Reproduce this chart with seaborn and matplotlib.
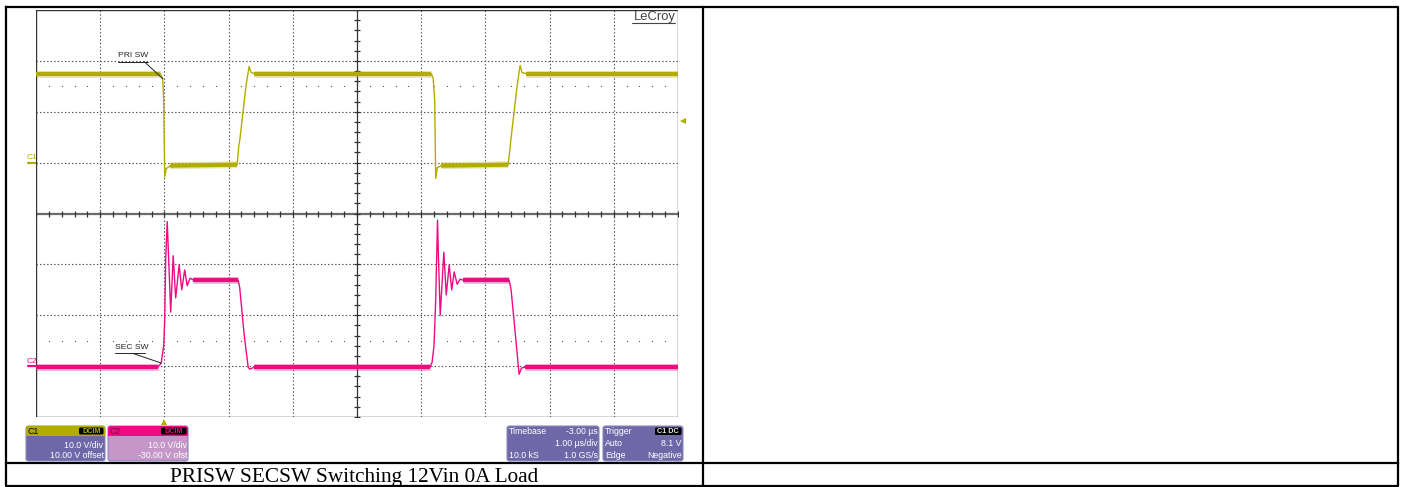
import numpy as np
import pandas as pd
import matplotlib
matplotlib.use("Agg")
import matplotlib.pyplot as plt
import matplotlib.transforms as mtransforms
from matplotlib.patches import FancyBboxPatch, Rectangle
import seaborn as sns

# ---------------------------------------------------------------------------
# Waveform data (time in microseconds relative to trigger, amplitude in volts)
# ---------------------------------------------------------------------------
# C1: primary switch node
c1_time = [-2.00, -0.065, -0.026, -0.011, 0.005, 0.028, 0.090, 1.134, 1.157,
           1.173, 1.274, 1.320, 1.352, 1.400, 4.157, 4.187, 4.210, 4.226,
           4.250, 4.310, 5.355, 5.380, 5.395, 5.495, 5.540, 5.570, 5.640, 8.00]
c1_volts = [17.5, 17.5, 16.5, 12.2, -2.8, -1.2, -0.6, -0.4, 3.2,
            4.3, 15.4, 18.9, 17.7, 17.5, 17.5, 16.5, 12.2, -3.1,
            -1.0, -0.6, -0.4, 2.4, 4.3, 15.2, 19.1, 17.7, 17.5, 17.5]

# C2: secondary switch node (with turn-on ringing)
c2_time = [-2.00, -0.100, -0.050, -0.010, 0.005, 0.020, 0.044, 0.067, 0.098,
           0.137, 0.176, 0.230, 0.270, 0.316, 0.355, 0.400, 0.450, 1.150,
           1.173, 1.243, 1.305, 1.330, 1.400, 4.140, 4.170, 4.200, 4.226,
           4.254, 4.270, 4.296, 4.353, 4.390, 4.436, 4.475, 4.514, 4.560,
           4.607, 4.650, 5.370, 5.400, 5.460, 5.525, 5.560, 5.620, 8.00]
c2_volts = [-0.2, -0.2, 0.6, 4.1, 9.1, 20.9, 28.4, 20.9, 10.6,
            21.7, 13.4, 19.9, 15.0, 18.9, 15.8, 17.3, 16.9, 16.9,
            15.4, 6.1, -0.2, -0.6, -0.2, -0.2, 0.8, 4.1, 13.0,
            28.7, 20.9, 10.0, 22.4, 14.0, 19.9, 15.0, 18.5, 16.1,
            17.1, 16.9, 16.9, 15.0, 7.1, -1.6, -0.4, -0.2, -0.2]

# Channel / acquisition settings
c1_volts_per_div = 10.0
c2_volts_per_div = 10.0
c1_zero_div = 5.0          # screen row holding C1 ground
c2_zero_div = 1.0          # screen row holding C2 ground
trigger_time = 0.0
trigger_level = 8.1
time_left, time_right = -2.0, 8.0
n_rows = 8

# Labels
trace_labels = ["PRI SW", "SEC SW"]
c1_info = ["10.0 V/div", "10.00 V offset"]
c2_info = ["10.0 V/div", "-30.00 V ofst"]
timebase_info = [("Timebase", "-3.00 µs"), ("", "1.00 µs/div"), ("10.0 kS", "1.0 GS/s")]
trigger_info = [("Trigger", ""), ("Auto", "8.1 V"), ("Edge", "Negative")]
caption = "PRISW SECSW Switching 12Vin 0A Load"

C1_COLOR = "#B3AC00"
C2_COLOR = "#F00A82"
PANEL = "#6E68A8"
PANEL_C2 = "#C596C8"
GRID = "#4a4a4a"

sns.set_style("white")
plt.rcParams["font.family"] = ["Liberation Sans", "DejaVu Sans"]

W, H = 1405, 487
fig = plt.figure(figsize=(W / 100, H / 100), dpi=100)

# Background layer in pixel units: table frame, caption, readout panels
bg = fig.add_axes([0, 0, 1, 1])
bg.set_xlim(0, W)
bg.set_ylim(H, 0)
bg.axis("off")

frame_kw = dict(color="black", lw=1.6, solid_capstyle="projecting")
bg.plot([6, 1398, 1398, 6, 6], [7, 7, 485.5, 485.5, 7], **frame_kw)
bg.plot([703, 703], [7, 485.5], **frame_kw)
bg.plot([6, 1398], [462.5, 462.5], **frame_kw)
bg.text(354, 482, caption, family="Liberation Serif", size=15.3,
        ha="center", va="baseline", color="black")


def panel(x0, x1, y0, y1, body, header=None, header_h=10):
    box = FancyBboxPatch((x0, y0), x1 - x0, y1 - y0,
                         boxstyle="round,pad=0,rounding_size=2.5",
                         fc=body, ec="#8d89b8", lw=0.8, zorder=2)
    bg.add_patch(box)
    if header is not None:
        hdr = Rectangle((x0, y0), x1 - x0, header_h, fc=header, ec="none", zorder=3)
        hdr.set_clip_path(box)
        bg.add_patch(hdr)


def badge(x0, x1, y0, y1, label, color):
    bg.add_patch(FancyBboxPatch((x0, y0), x1 - x0, y1 - y0,
                                boxstyle="round,pad=0,rounding_size=1.5",
                                fc="black", ec="none", zorder=4))
    bg.text((x0 + x1) / 2, (y0 + y1) / 2 + 0.3, label, color=color, size=5.2,
            weight="bold", ha="center", va="center", zorder=5)


txt = dict(size=6.3, color="white", va="center", zorder=5)

# C1 readout
panel(26, 105, 426, 461, PANEL, C1_COLOR)
bg.text(28, 431, "C1", **{**txt, "color": "black"})
badge(79, 103.5, 427.5, 434.5, "DCIM", C1_COLOR)
bg.text(103.5, 445.5, c1_info[0], ha="right", **txt)
bg.text(104, 455.5, c1_info[1], ha="right", **txt)

# C2 readout
panel(108, 188, 426, 461, PANEL_C2, C2_COLOR)
bg.text(110, 431, "C2", **{**txt, "color": "#7a0040"})
badge(161, 186.5, 427.5, 434.5, "DCIM", C2_COLOR)
bg.text(186.5, 445.5, c2_info[0], ha="right", **txt)
bg.text(187, 455.5, c2_info[1], ha="right", **txt)

# Timebase readout
panel(507, 599, 426, 461, PANEL)
for (left, right), yy in zip(timebase_info, [431.5, 444, 455.5]):
    if left:
        bg.text(509, yy, left, ha="left", **txt)
    if right:
        bg.text(597.5, yy, right, ha="right", **txt)

# Trigger readout
panel(603, 683, 426, 461, PANEL)
for (left, right), yy in zip(trigger_info, [431.5, 444, 455.5]):
    if left:
        bg.text(605, yy, left, ha="left", **txt)
    if right:
        bg.text(681.5, yy, right, ha="right", **txt)
badge(655, 681.5, 427.5, 435, "C1 DC", "#e8e8e8")

# ---------------------------------------------------------------------------
# Oscilloscope graticule
# ---------------------------------------------------------------------------
ax = fig.add_axes([36 / W, 1 - 417 / H, 642 / W, 407 / H])
ax.set_xlim(time_left, time_right)
ax.set_ylim(0, n_rows)
ax.axis("off")
ax.patch.set_alpha(0)

time_grid = np.arange(time_left, time_right + 0.5, 1.0)
center_t = (time_left + time_right) / 2
dotted = dict(color=GRID, lw=0.8, ls=(0, (1.2, 2.0)), zorder=1)
solid = dict(color="#333333", lw=1.0, zorder=1)

for t in time_grid:
    if t in (time_left, time_right):
        ax.axvline(t, **solid)
    elif t == center_t:
        ax.axvline(t, color="#333333", lw=0.9, zorder=1)
    else:
        ax.axvline(t, **dotted)
for r in range(n_rows + 1):
    if r in (0, n_rows):
        ax.axhline(r, **solid)
    elif r == n_rows // 2:
        ax.axhline(r, color="#6a6a6a", lw=1.6, zorder=1)
    else:
        ax.axhline(r, **dotted)

# Minor ticks on the centre cross
minor_t = np.arange(time_left, time_right + 1e-9, 0.2)
minor_r = np.arange(0, n_rows + 1e-9, 0.2)
ax.plot(minor_t, np.full_like(minor_t, n_rows / 2), ls="none", marker="|",
        ms=4.5, mew=0.9, color="#333333", zorder=1)
ax.plot(np.full_like(minor_r, center_t), minor_r, ls="none", marker="_",
        ms=4.5, mew=0.9, color="#333333", zorder=1)

# Sparse dotted reference rows
for r in (c1_zero_div + 1.5, c2_zero_div + 0.5):
    ax.plot(minor_t[1:-1], np.full(len(minor_t) - 2, r), ls="none", marker="s",
            ms=0.8, mew=0, color="#555555", zorder=1)

# ---------------------------------------------------------------------------
# Traces
# ---------------------------------------------------------------------------
traces = [
    (c1_time, c1_volts, c1_volts_per_div, c1_zero_div, C1_COLOR),
    (c2_time, c2_volts, c2_volts_per_div, c2_zero_div, C2_COLOR),
]
for tt, vv, vdiv, zero, col in traces:
    df = pd.DataFrame({"time": tt, "row": zero + np.asarray(vv) / vdiv})
    sns.lineplot(data=df, x="time", y="row", ax=ax, color=col, lw=1.0,
                 estimator=None, sort=False, zorder=4)
    # noise band on the settled levels
    for i in range(len(df) - 1):
        if df.time[i + 1] - df.time[i] > 0.2:
            seg = df.iloc[i:i + 2]
            ax.plot(seg.time, seg.row, color=col, lw=5.0, alpha=0.3,
                    solid_capstyle="butt", zorder=3)
            ax.plot(seg.time, seg.row, color=col, lw=3.0,
                    solid_capstyle="butt", zorder=4)
ax.set_xlabel("")
ax.set_ylabel("")

# Channel ground markers: position taken from the graticule's data scale
to_bg = ax.transData + bg.transData.inverted()
for name, zero, col in (("C1", c1_zero_div, C1_COLOR), ("C2", c2_zero_div, C2_COLOR)):
    px, py = to_bg.transform((time_left, zero))
    bg.plot([px - 8, px], [py, py], color=col, lw=1.6, zorder=5)
    bg.text(px - 9, py - 1.5, name, size=6.0, color=col, rotation=0,
            ha="left", va="bottom", zorder=5)

# Trigger position and level markers
blend_x = mtransforms.blended_transform_factory(ax.transData, ax.transAxes)
blend_y = mtransforms.blended_transform_factory(ax.transAxes, ax.transData)
ax.plot([trigger_time], [-0.0125], marker="^", ms=5, color=C1_COLOR, mew=0,
        transform=blend_x, clip_on=False, zorder=5)
ax.plot([1.0085], [c1_zero_div + trigger_level / c1_volts_per_div], marker="<",
        ms=5, color=C1_COLOR, mew=0, transform=blend_y, clip_on=False, zorder=5)

# Trace labels with underline and leader line
label_specs = [
    (trace_labels[0], -0.72, 6.98, -0.31, (c1_time[2], c1_zero_div + c1_volts[2] / c1_volts_per_div)),
    (trace_labels[1], -0.77, 1.25, -0.49, (c2_time[2], c2_zero_div + c2_volts[2] / c2_volts_per_div)),
]
for text, tx, ty, lead_from, target in label_specs:
    ax.text(tx, ty + 0.05, text, size=6.1, color="#222222", ha="left", va="bottom",
            zorder=6)
    ax.plot([tx, tx + 0.47], [ty, ty], color="#222222", lw=0.7, zorder=6)
    ax.plot([lead_from, target[0]], [ty, target[1]], color="#222222", lw=0.7, zorder=6)

# Brand mark
ax.text(0.996, 0.9754, "LeCroy", transform=ax.transAxes, size=9.4, color="#444444",
        ha="right", va="baseline", zorder=6)
ax.plot([0.928, 0.996], [0.9685, 0.9685], transform=ax.transAxes, color="#444444",
        lw=0.8, zorder=6)

fig.savefig("out.png", dpi=100)
